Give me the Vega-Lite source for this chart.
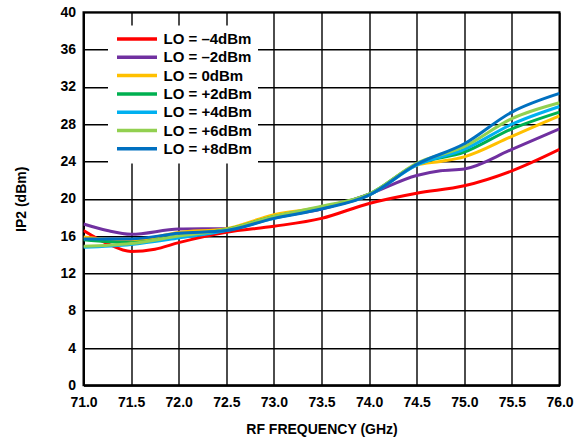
{
  "$schema": "https://vega.github.io/schema/vega-lite/v6.json",
  "width": 476,
  "height": 373,
  "autosize": {"type": "none"},
  "padding": {"left": 83.5, "top": 12.3, "right": 23.5, "bottom": 56.7},
  "background": "white",
  "config": {
    "view": {"stroke": "black", "strokeWidth": 2},
    "font": "Liberation Sans",
    "axis": {
      "labelFont": "Liberation Sans", "labelFontWeight": "bold", "labelFontSize": 14, "labelColor": "black",
      "titleFont": "Liberation Sans", "titleFontWeight": "bold", "titleFontSize": 14, "titleColor": "black",
      "gridColor": "black", "gridOpacity": 1, "gridWidth": 1.4,
      "domainColor": "black", "domainWidth": 2, "ticks": false
    },
    "legend": {
      "labelFont": "Liberation Sans", "labelFontWeight": "bold", "labelFontSize": 15, "labelColor": "black"
    }
  },
  "data": {"values": [
    {"f": 71.0, "ip2": 16.6, "lo": "LO = \u20134dBm"},
    {"f": 71.25, "ip2": 15.2, "lo": "LO = \u20134dBm"},
    {"f": 71.5, "ip2": 14.35, "lo": "LO = \u20134dBm"},
    {"f": 71.75, "ip2": 14.6, "lo": "LO = \u20134dBm"},
    {"f": 72.0, "ip2": 15.3, "lo": "LO = \u20134dBm"},
    {"f": 72.5, "ip2": 16.4, "lo": "LO = \u20134dBm"},
    {"f": 73.0, "ip2": 17.05, "lo": "LO = \u20134dBm"},
    {"f": 73.5, "ip2": 17.9, "lo": "LO = \u20134dBm"},
    {"f": 74.0, "ip2": 19.5, "lo": "LO = \u20134dBm"},
    {"f": 74.5, "ip2": 20.6, "lo": "LO = \u20134dBm"},
    {"f": 75.0, "ip2": 21.4, "lo": "LO = \u20134dBm"},
    {"f": 75.5, "ip2": 23.0, "lo": "LO = \u20134dBm"},
    {"f": 76.0, "ip2": 25.3, "lo": "LO = \u20134dBm"},

    {"f": 71.0, "ip2": 17.3, "lo": "LO = \u20132dBm"},
    {"f": 71.25, "ip2": 16.6, "lo": "LO = \u20132dBm"},
    {"f": 71.5, "ip2": 16.2, "lo": "LO = \u20132dBm"},
    {"f": 72.0, "ip2": 16.75, "lo": "LO = \u20132dBm"},
    {"f": 72.5, "ip2": 16.8, "lo": "LO = \u20132dBm"},
    {"f": 73.0, "ip2": 18.0, "lo": "LO = \u20132dBm"},
    {"f": 73.5, "ip2": 18.9, "lo": "LO = \u20132dBm"},
    {"f": 74.0, "ip2": 20.5, "lo": "LO = \u20132dBm"},
    {"f": 74.5, "ip2": 22.5, "lo": "LO = \u20132dBm"},
    {"f": 74.75, "ip2": 23.0, "lo": "LO = \u20132dBm"},
    {"f": 75.0, "ip2": 23.2, "lo": "LO = \u20132dBm"},
    {"f": 75.5, "ip2": 25.3, "lo": "LO = \u20132dBm"},
    {"f": 76.0, "ip2": 27.5, "lo": "LO = \u20132dBm"},

    {"f": 71.0, "ip2": 15.9, "lo": "LO = 0dBm"},
    {"f": 71.5, "ip2": 15.5, "lo": "LO = 0dBm"},
    {"f": 72.0, "ip2": 16.4, "lo": "LO = 0dBm"},
    {"f": 72.5, "ip2": 16.8, "lo": "LO = 0dBm"},
    {"f": 73.0, "ip2": 18.3, "lo": "LO = 0dBm"},
    {"f": 73.5, "ip2": 19.1, "lo": "LO = 0dBm"},
    {"f": 74.0, "ip2": 20.4, "lo": "LO = 0dBm"},
    {"f": 74.5, "ip2": 23.6, "lo": "LO = 0dBm"},
    {"f": 74.75, "ip2": 24.0, "lo": "LO = 0dBm"},
    {"f": 75.0, "ip2": 24.5, "lo": "LO = 0dBm"},
    {"f": 75.5, "ip2": 26.7, "lo": "LO = 0dBm"},
    {"f": 76.0, "ip2": 28.9, "lo": "LO = 0dBm"},

    {"f": 71.0, "ip2": 15.6, "lo": "LO = +2dBm"},
    {"f": 71.5, "ip2": 15.3, "lo": "LO = +2dBm"},
    {"f": 72.0, "ip2": 16.0, "lo": "LO = +2dBm"},
    {"f": 72.5, "ip2": 16.7, "lo": "LO = +2dBm"},
    {"f": 73.0, "ip2": 18.1, "lo": "LO = +2dBm"},
    {"f": 73.5, "ip2": 19.1, "lo": "LO = +2dBm"},
    {"f": 74.0, "ip2": 20.5, "lo": "LO = +2dBm"},
    {"f": 74.5, "ip2": 23.7, "lo": "LO = +2dBm"},
    {"f": 75.0, "ip2": 25.0, "lo": "LO = +2dBm"},
    {"f": 75.5, "ip2": 27.5, "lo": "LO = +2dBm"},
    {"f": 76.0, "ip2": 29.3, "lo": "LO = +2dBm"},

    {"f": 71.0, "ip2": 14.8, "lo": "LO = +4dBm"},
    {"f": 71.5, "ip2": 15.1, "lo": "LO = +4dBm"},
    {"f": 72.0, "ip2": 15.8, "lo": "LO = +4dBm"},
    {"f": 72.5, "ip2": 16.6, "lo": "LO = +4dBm"},
    {"f": 73.0, "ip2": 17.9, "lo": "LO = +4dBm"},
    {"f": 73.5, "ip2": 19.0, "lo": "LO = +4dBm"},
    {"f": 74.0, "ip2": 20.4, "lo": "LO = +4dBm"},
    {"f": 74.5, "ip2": 23.6, "lo": "LO = +4dBm"},
    {"f": 75.0, "ip2": 25.3, "lo": "LO = +4dBm"},
    {"f": 75.5, "ip2": 28.0, "lo": "LO = +4dBm"},
    {"f": 76.0, "ip2": 29.9, "lo": "LO = +4dBm"},

    {"f": 71.0, "ip2": 14.9, "lo": "LO = +6dBm"},
    {"f": 71.5, "ip2": 15.2, "lo": "LO = +6dBm"},
    {"f": 72.0, "ip2": 16.0, "lo": "LO = +6dBm"},
    {"f": 72.5, "ip2": 16.7, "lo": "LO = +6dBm"},
    {"f": 73.0, "ip2": 18.1, "lo": "LO = +6dBm"},
    {"f": 73.5, "ip2": 19.2, "lo": "LO = +6dBm"},
    {"f": 74.0, "ip2": 20.5, "lo": "LO = +6dBm"},
    {"f": 74.5, "ip2": 23.8, "lo": "LO = +6dBm"},
    {"f": 75.0, "ip2": 25.6, "lo": "LO = +6dBm"},
    {"f": 75.5, "ip2": 28.6, "lo": "LO = +6dBm"},
    {"f": 76.0, "ip2": 30.3, "lo": "LO = +6dBm"},

    {"f": 71.0, "ip2": 15.7, "lo": "LO = +8dBm"},
    {"f": 71.5, "ip2": 15.7, "lo": "LO = +8dBm"},
    {"f": 72.0, "ip2": 16.3, "lo": "LO = +8dBm"},
    {"f": 72.5, "ip2": 16.6, "lo": "LO = +8dBm"},
    {"f": 73.0, "ip2": 17.9, "lo": "LO = +8dBm"},
    {"f": 73.5, "ip2": 18.9, "lo": "LO = +8dBm"},
    {"f": 74.0, "ip2": 20.4, "lo": "LO = +8dBm"},
    {"f": 74.5, "ip2": 23.7, "lo": "LO = +8dBm"},
    {"f": 75.0, "ip2": 25.9, "lo": "LO = +8dBm"},
    {"f": 75.5, "ip2": 29.3, "lo": "LO = +8dBm"},
    {"f": 76.0, "ip2": 31.3, "lo": "LO = +8dBm"}
  ]},
  "mark": {"type": "line", "interpolate": "monotone", "strokeWidth": 3, "clip": true},
  "encoding": {
    "x": {"field": "f", "type": "quantitative", "title": "RF FREQUENCY (GHz)",
      "scale": {"domain": [71, 76], "nice": false, "zero": false},
      "axis": {"values": [71, 71.5, 72, 72.5, 73, 73.5, 74, 74.5, 75, 75.5, 76], "format": ".1f", "labelPadding": 10, "titlePadding": 13, "labelFlush": false}},
    "y": {"field": "ip2", "type": "quantitative", "title": "IP2 (dBm)",
      "scale": {"domain": [0, 40], "nice": false},
      "axis": {"values": [0, 4, 8, 12, 16, 20, 24, 28, 32, 36, 40], "labelPadding": 8, "titlePadding": 31, "labelFlush": false}},
    "color": {"field": "lo", "type": "nominal", "sort": null,
      "scale": {
        "domain": ["LO = \u20134dBm", "LO = \u20132dBm", "LO = 0dBm", "LO = +2dBm", "LO = +4dBm", "LO = +6dBm", "LO = +8dBm"],
        "range": ["#ff0000", "#7030a0", "#ffc000", "#00b050", "#00b0f0", "#92d050", "#0070c0"]
      },
      "legend": {
        "title": null, "orient": "none", "legendX": 24.5, "legendY": 13.2,
        "fillColor": "white", "padding": 6,
        "symbolType": "M-4,0H4", "symbolSize": 100, "symbolStrokeWidth": 3.5,
        "symbolOffset": 15.5, "labelOffset": 19, "rowPadding": 2.3
      }
    },
    "order": {"field": "lo"}
  }
}
